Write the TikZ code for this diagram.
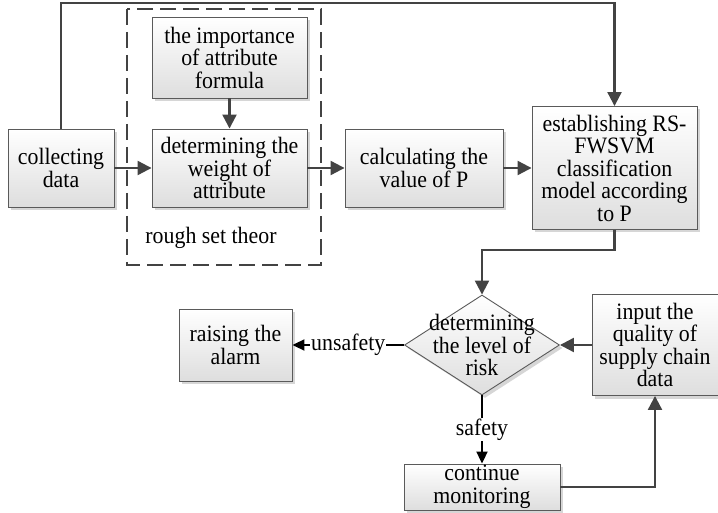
\documentclass[tikz,border=0pt]{standalone}
\usepackage{fontspec}
\setmainfont{Liberation Serif}[FakeStretch=0.93]
\usetikzlibrary{arrows.meta, shapes.geometric, shadows}
\definecolor{boxline}{HTML}{5A5A5A}
\definecolor{flowline}{HTML}{434343}

\begin{document}
\begin{tikzpicture}[x=1pt, y=-1pt,
    every node/.style={font=\fontsize{23.5}{22.5}\selectfont},
    box/.style={draw=boxline, line width=0.9pt, top color=white, bottom color=black!13,
        drop shadow={shadow xshift=3pt, shadow yshift=-3pt, fill=black!16, opacity=1},
        inner sep=0pt, align=center},
    decision/.style={box, diamond, minimum width=155pt, minimum height=100pt},
    flow/.style={draw=flowline, line width=2.2pt, -{Triangle[length=14pt,width=14pt]}},
    tagline/.style={draw=black, line width=2pt, -{Triangle[length=12pt,width=11pt]}},
    tag/.style={fill=white, inner sep=1pt},
    groupline/.style={draw=flowline, line width=1.6pt, dash pattern=on 16pt off 7pt}]

    \useasboundingbox (0,0) rectangle (718,513);

    \draw[groupline] (127,9) rectangle (321,265);
    \node (groupname) at (211,238) {rough set theor};

    \node[box, minimum width=106pt, minimum height=78pt] (collect) at (61,168) {collecting\\data};
    \node[box, minimum width=155pt, minimum height=81pt] (formula) at (229.5,57.5) {the importance\\of attribute\\formula};
    \node[box, minimum width=155pt, minimum height=78pt] (weight) at (229.5,168) {determining the\\weight of\\attribute};
    \node[box, minimum width=158pt, minimum height=78pt] (calc) at (424,168) {calculating the\\value of P};
    \node[box, minimum width=165pt, minimum height=123pt] (model) at (614.5,168) {establishing RS-\\FWSVM\\classification\\model according\\to P};
    \node[decision] (risk) at (482,345) {};
    \node[align=center, inner sep=0pt] (risktext) at (risk.center) {determining\\the level of\\risk};
    \node[box, minimum width=113pt, minimum height=72pt] (alarm) at (235.5,345) {raising the\\alarm};
    \node[box, minimum width=126pt, minimum height=101pt] (input) at (655,345) {input the\\quality of\\supply chain\\data};
    \node[box, minimum width=156pt, minimum height=46pt] (monitor) at (482,487) {continue\\monitoring};

    \coordinate (topturn) at (0,3);

    \draw[flow] (collect) -- (weight);
    \draw[flow] (formula) -- (weight);
    \draw[flow] (weight) -- (calc);
    \draw[flow] (calc) -- (model);
    \draw[flow] (collect.north) |- (topturn -| model.north) -- (model.north);
    \draw[flow] (model.south) -- ++(0,20) -| (risk.north);
    \draw[flow] (input) -- (risk);
    \draw[flow] (monitor.east) -| (input.south);

    \draw[tagline] (risk.west) -- node[tag] {unsafety} (alarm.east);
    \draw[tagline] (risk.south) -- node[tag] {safety} (monitor.north);
\end{tikzpicture}
\end{document}
